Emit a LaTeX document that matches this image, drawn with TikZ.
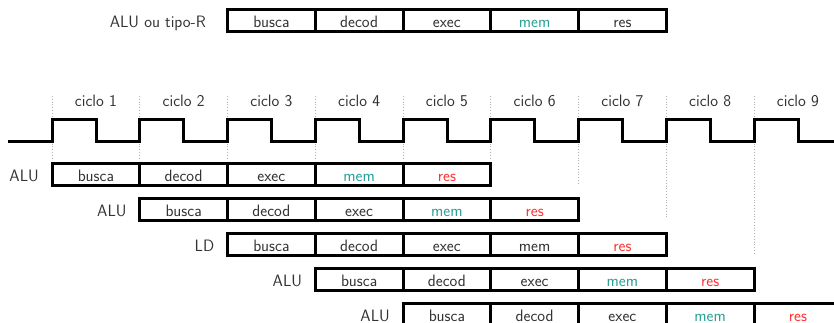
\documentclass[tikz,border=0pt]{standalone}
\definecolor{txt}{HTML}{333333}
\definecolor{memc}{HTML}{2AA198}
\definecolor{resc}{HTML}{FF3333}
\definecolor{guide}{HTML}{B0B0B0}
\begin{document}
\begin{tikzpicture}[x=1pt,y=-1pt,
  font=\fontsize{16.5}{19}\selectfont\sffamily,
  cell/.style={draw=black, line width=3pt, fill=white, minimum width=87.75pt,
    minimum height=22pt, inner sep=0pt, text height=16pt, text depth=1pt, text=txt},
  lab/.style={anchor=east, inner sep=0pt, text height=16pt, text depth=1pt, text=txt},
  memcell/.style={cell, text=memc},
  rescell/.style={cell, text=resc},
  clock/.style={draw=black, line width=3pt, line join=miter},
  guideline/.style={draw=guide, dotted, line width=0.8pt},
  cyc/.style={anchor=base, inner sep=0pt, text=txt}]
\useasboundingbox (0,0) rectangle (834,322);
\clip (0,0) rectangle (834,322);

% guide lines at cycle boundaries
\foreach \k/\e in {1/160,2/160,3/160,4/160,5/160,6/160,7/184,8/219,9/254}{
  \coordinate (gt\k) at ({52+87.75*(\k-1)},96);
  \coordinate (gb\k) at ({52+87.75*(\k-1)},\e);
  \draw[guideline] (gt\k) -- (gb\k);
}

% clock
\draw[clock] (8,141.5) \foreach \k in {0,...,8}{
  -- ({52+87.75*\k},141.5) -- ({52+87.75*\k},119) -- ({96+87.75*\k},119) -- ({96+87.75*\k},141.5) }
  -- (840,141.5);

% cycle labels
\foreach \k in {1,...,9}{
  \node[cyc] (ciclo\k) at ({52+87.75*(\k-1)+43.875},106) {ciclo \k};
}

% top row
\node[cell] (t3) at ({52+87.75*2+43.875},20) {busca};
\node[cell] (t4) at ({52+87.75*3+43.875},20) {decod};
\node[cell] (t5) at ({52+87.75*4+43.875},20) {exec};
\node[memcell] (t6) at ({52+87.75*5+43.875},20) {mem};
\node[cell] (t7) at ({52+87.75*6+43.875},20) {res};
\node[lab] (tl) at (206,20) {ALU ou tipo-R};

% pipeline rows
\foreach \i/\name/\memst in {1/ALU/memcell,2/ALU/memcell,3/LD/cell,4/ALU/memcell,5/ALU/memcell}{
  \pgfmathsetmacro{\yc}{174+35*(\i-1)}
  \pgfmathsetmacro{\xs}{52+87.75*(\i-1)}
  \node[cell] (r\i c1) at ({\xs+43.875},\yc) {busca};
  \node[cell] (r\i c2) at ({\xs+87.75+43.875},\yc) {decod};
  \node[cell] (r\i c3) at ({\xs+2*87.75+43.875},\yc) {exec};
  \node[\memst] (r\i c4) at ({\xs+3*87.75+43.875},\yc) {mem};
  \node[rescell] (r\i c5) at ({\xs+4*87.75+43.875},\yc) {res};
  \node[lab] (r\i l) at ({\xs-13},\yc) {\name};
}
\end{tikzpicture}
\end{document}
